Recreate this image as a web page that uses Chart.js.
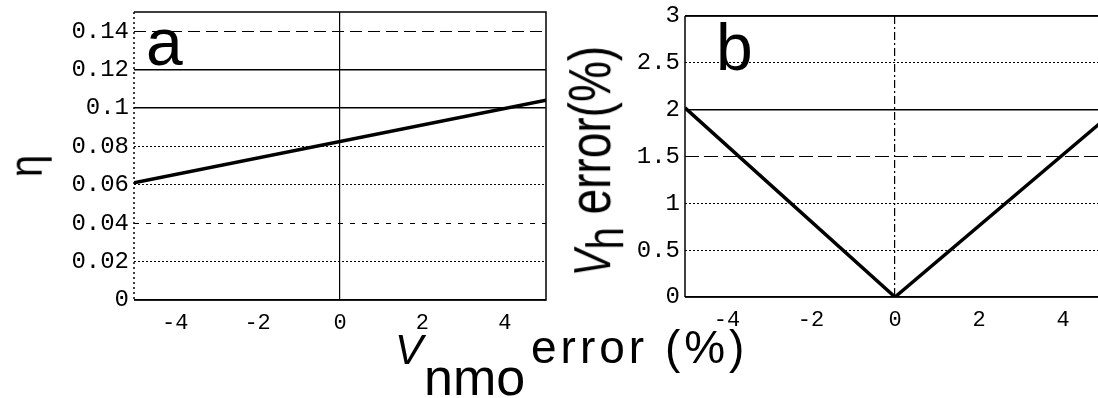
<!DOCTYPE html>
<html lang="en">
<head>
<meta charset="UTF-8">
<title>eta and Vh error vs Vnmo error</title>
<script src="https://cdn.jsdelivr.net/npm/chart.js"></script>
<style>
    html, body {
        margin: 0;
        padding: 0;
        background: #fff;
        width: 1098px;
        height: 398px;
        overflow: hidden;
    }
    body { position: relative; }
    canvas { position: absolute; top: 0; }
    #chartA { left: 0; }
    #chartB { left: 600px; }
    .lbl {
        position: absolute;
        font-family: "Liberation Sans", Arial, sans-serif;
        color: #000;
        white-space: nowrap;
        line-height: 1;
    }
    .rot { transform: translate(-50%, -50%) rotate(-90deg) scaleY(1.15); }
    .rotw { transform: translate(-50%, -50%) rotate(-90deg) scaleY(1.3); }
</style>
</head>
<body>

<canvas id="chartA" width="560" height="340"></canvas>
<canvas id="chartB" width="520" height="340"></canvas>

<div class="lbl" style="left:146px; top:9px; font-size:66px;">a</div>
<div class="lbl" style="left:716px; top:14px; font-size:66px;">b</div>

<div class="lbl rot" style="left:26px; top:166px; font-size:40px;">η</div>

<div class="lbl rotw" style="left:589px; top:161px;"><span style="font-size:40px; font-style:italic;">V</span><span style="font-size:40px; position:relative; top:10px;">h</span><span style="font-size:46px;"> error(%)</span></div>

<div class="lbl" style="left:395px; top:329px; font-size:42px; font-style:italic;">V</div>
<div class="lbl" style="left:424px; top:351px; font-size:52px;">nmo</div>
<div class="lbl" style="left:531px; top:324px; font-size:46px; letter-spacing:4px;">error (%)</div>

<script>
// x values shared by both panels (Vnmo error, %)
var xTicks = [-4, -2, 0, 2, 4];
var xLabels = ['-4', '-2', '0', '2', '4'];

// panel a: eta
var vnmoErrA = [-5, 5];
var eta = [0.061, 0.104];
var yTicksA = [0, 0.02, 0.04, 0.06, 0.08, 0.1, 0.12, 0.14];
var yLabelsA = ['0', '0.02', '0.04', '0.06', '0.08', '0.1', '0.12', '0.14'];

// panel b: Vh error
var vnmoErrB = [-5, 0, 5];
var vhErr = [2.02, 0, 1.9];
var yTicksB = [0, 0.5, 1, 1.5, 2, 2.5, 3];
var yLabelsB = ['0', '0.5', '1', '1.5', '2', '2.5', '3'];

// grid line styles per tick value
var dashA = { '0.02': [2, 2], '0.04': [5, 7], '0.06': [2, 2], '0.08': [2, 2], '0.14': [12, 6] };
var dashB = { '0.5': [2, 2], '1': [2, 2], '1.5': [14, 5], '2.5': [2, 2] };

var framePlugin = {
    id: 'frame',
    beforeDatasetsDraw: function (chart, args, opts) {
        var ctx = chart.ctx, a = chart.chartArea;
        ctx.save();
        ctx.strokeStyle = '#000';
        ctx.lineWidth = 1.5;
        ctx.beginPath();
        ctx.moveTo(a.left, a.top);
        ctx.lineTo(a.right, a.top);
        ctx.lineTo(a.right, a.bottom);
        ctx.lineTo(a.left, a.bottom);
        ctx.stroke();
        ctx.setLineDash(opts.leftDash || []);
        ctx.beginPath();
        ctx.moveTo(a.left, a.top);
        ctx.lineTo(a.left, a.bottom);
        ctx.stroke();
        ctx.restore();
    }
};

function toPoints(xs, ys) {
    return xs.map(function (x, i) { return { x: x, y: ys[i] }; });
}

function makeScales(yTicks, yLabels, yMax, dash, zeroDash, yWidth, xHeight) {
    return {
        x: {
            type: 'linear',
            min: -5,
            max: 5,
            afterBuildTicks: function (s) { s.ticks = xTicks.map(function (v) { return { value: v }; }); },
            afterFit: function (s) {
                s.height = xHeight;
                s.paddingLeft = 0;
                s.paddingRight = 0;
            },
            ticks: {
                color: '#000',
                padding: 10,
                maxRotation: 0,
                font: { family: 'Liberation Mono', size: 22 },
                callback: function (v, i) { return xLabels[i]; }
            },
            grid: {
                drawTicks: false,
                lineWidth: 1.2,
                color: function (c) { return c.tick && c.tick.value === 0 ? '#000' : 'rgba(0,0,0,0)'; }
            },
            border: { display: false, dash: zeroDash }
        },
        y: {
            type: 'linear',
            min: 0,
            max: yMax,
            afterBuildTicks: function (s) { s.ticks = yTicks.map(function (v) { return { value: v }; }); },
            afterFit: function (s) {
                s.width = yWidth;
                s.paddingTop = 0;
                s.paddingBottom = 0;
            },
            ticks: {
                color: '#000',
                padding: 5,
                font: { family: 'Liberation Mono', size: 24 },
                callback: function (v, i) { return yLabels[i]; }
            },
            grid: {
                drawTicks: false,
                color: '#000',
                lineWidth: function (c) { return c.tick && !dash[String(c.tick.value)] ? 1.5 : 1; }
            },
            border: {
                display: false,
                dash: function (c) { return c.tick ? (dash[String(c.tick.value)] || []) : []; }
            }
        }
    };
}

function lineDataset(xs, ys) {
    return {
        data: toPoints(xs, ys),
        showLine: true,
        borderColor: '#000',
        borderWidth: 3.5,
        pointRadius: 0,
        tension: 0
    };
}

var chartA = new Chart(document.getElementById('chartA').getContext('2d'), {
    type: 'scatter',
    data: { datasets: [lineDataset(vnmoErrA, eta)] },
    options: {
        responsive: false,
        animation: false,
        layout: { padding: { top: 12, right: 14, left: 0, bottom: 0 } },
        plugins: { legend: { display: false }, tooltip: { enabled: false }, frame: { leftDash: [2, 3] } },
        scales: makeScales(yTicksA, yLabelsA, 0.15, dashA, [], 134, 40)
    },
    plugins: [framePlugin]
});

var chartB = new Chart(document.getElementById('chartB').getContext('2d'), {
    type: 'scatter',
    data: { datasets: [lineDataset(vnmoErrB, vhErr)] },
    options: {
        responsive: false,
        animation: false,
        layout: { padding: { top: 16, right: 15, left: 0, bottom: 0 } },
        plugins: { legend: { display: false }, tooltip: { enabled: false }, frame: { leftDash: [] } },
        scales: makeScales(yTicksB, yLabelsB, 3, dashB, [8, 3, 2, 3], 85, 43)
    },
    plugins: [framePlugin]
});
</script>

</body>
</html>
